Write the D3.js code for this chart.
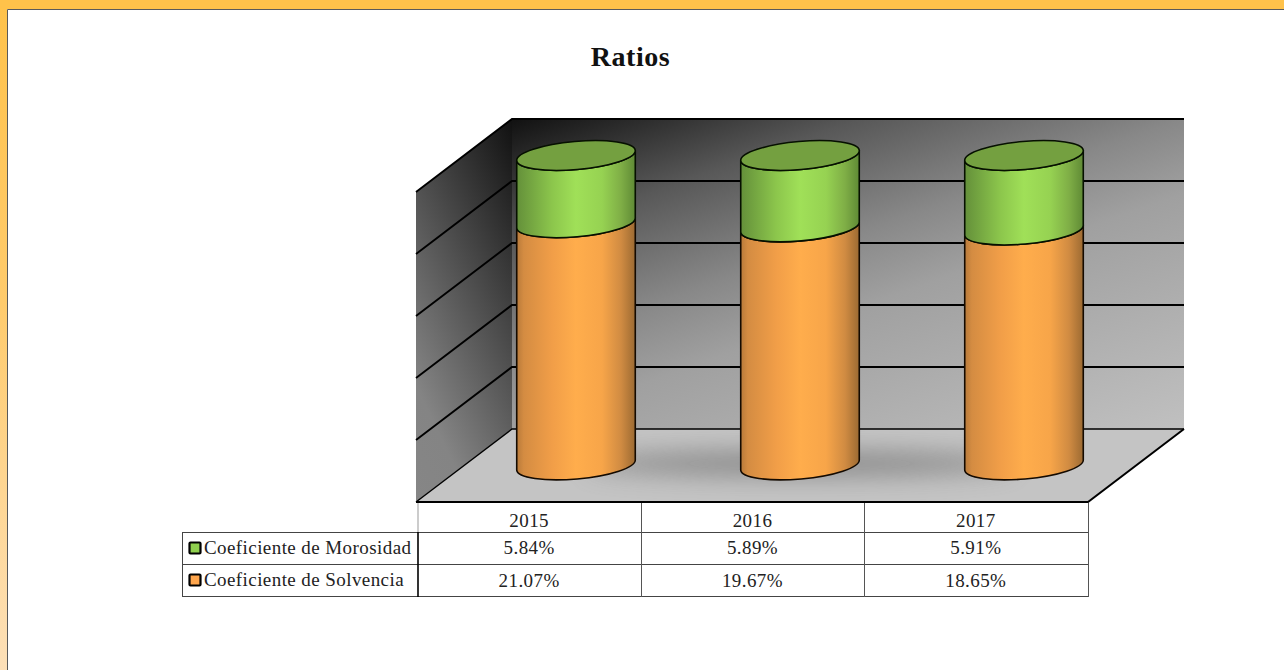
<!DOCTYPE html>
<html><head><meta charset="utf-8">
<script src="https://cdn.jsdelivr.net/npm/d3@7"></script>
<style>html,body{margin:0;padding:0;background:#fff;overflow:hidden}svg{display:block}</style>
</head><body><svg id="c" width="1284" height="670"></svg>
<script>
const title = "Ratios";
const years = ["2015","2016","2017"];
const morosidad = [5.84,5.89,5.91];
const solvencia = [21.07,19.67,18.65];
const seriesNames = ["Coeficiente de Morosidad","Coeficiente de Solvencia"];
const yTicks = [0,0.2,0.4,0.6,0.8,1];

const W=1284,H=670;
const svg=d3.select("#c");
const defs=svg.append("defs");
function grad(id,attrs,stops){
  const g=defs.append("linearGradient").attr("id",id);
  Object.entries(attrs).forEach(([k,v])=>g.attr(k,v));
  stops.forEach(([o,c])=>g.append("stop").attr("offset",o).attr("stop-color",c));
}
grad("side",{x1:0,y1:0,x2:0,y2:1},[[0,"#ffc24a"],[0.45,"#ffcb6c"],[1,"#fde0b8"]]);
grad("back",{gradientUnits:"userSpaceOnUse",x1:512,y1:119,x2:682,y2:604.5},[[0,"#111"],[0.224,"#585858"],[0.431,"#888"],[0.569,"#a0a0a0"],[1,"#c0c0c0"]]);
grad("left",{gradientUnits:"userSpaceOnUse",x1:512,y1:119,x2:284,y2:229},[[0,"#111"],[0.8,"#848484"],[1,"#868686"]]);
grad("green",{x1:0,y1:0,x2:1,y2:0},[[0,"#64903a"],[0.3,"#8cc64c"],[0.5,"#a0e058"],[0.72,"#96d252"],[0.88,"#7fae46"],[1,"#5f8a35"]]);
grad("orange",{x1:0,y1:0,x2:1,y2:0},[[0,"#b87a3a"],[0.06,"#d48c42"],[0.3,"#f19e48"],[0.5,"#ffad4c"],[0.72,"#f7a549"],[0.88,"#d08b42"],[1,"#9c6a32"]]);
const blur=defs.append("filter").attr("id","blur").attr("x","-50%").attr("y","-200%").attr("width","200%").attr("height","500%");
blur.append("feGaussianBlur").attr("stdDeviation",12);

// page frame
svg.append("rect").attr("width",W).attr("height",H).attr("fill","#fff");
svg.append("rect").attr("width",7).attr("height",H).attr("fill","url(#side)");
svg.append("rect").attr("width",W).attr("height",9).attr("fill","#ffc24a");
svg.append("path").attr("d",`M7.5,${H}V9.5H${W}`).attr("fill","none").attr("stroke","#5a5a5a").attr("stroke-width",1);

svg.append("text").text(title).attr("x",630.5).attr("y",66).attr("text-anchor","middle")
  .attr("font-family","'Liberation Serif',serif").attr("font-weight","bold").attr("font-size",28).attr("letter-spacing",0.55).attr("fill","#111");

// scales: back wall plane, with a depth offset to the front plane
const depth={dx:-96,dy:73};
const x=d3.scaleBand().domain(years).range([512,1184]);
const y=d3.scaleLinear().domain([0,1]).range([429,119]);
const x0=512,x1=1184;
const plot=svg.append("g");
plot.append("rect").attr("x",x0).attr("y",y(1)).attr("width",x1-x0).attr("height",y(0)-y(1)).attr("fill","url(#back)");
plot.append("path").attr("d",`M${x0},${y(1)}L${x0+depth.dx},${y(1)+depth.dy}V${y(0)+depth.dy}L${x0},${y(0)}Z`).attr("fill","url(#left)");
const floorD=`M${x0},${y(0)}H${x1}L${x1+depth.dx},${y(0)+depth.dy}H${x0+depth.dx}Z`;
plot.append("path").attr("d",floorD).attr("fill","#c4c4c4");
defs.append("clipPath").attr("id","floorClip").append("path").attr("d",floorD);

// soft shadow on the floor, centred under the middle cylinder
const midYear=years[1];
plot.append("g").attr("clip-path","url(#floorClip)").append("ellipse").attr("filter","url(#blur)")
  .attr("cx",x(midYear)+x.bandwidth()/2+depth.dx/2).attr("cy",y(0)+depth.dy/2-2).attr("rx",215).attr("ry",13)
  .attr("fill","#777").attr("opacity",.72);

// gridlines
plot.append("g").selectAll("path").data(yTicks).join("path")
  .attr("d",t=>`M${x0+depth.dx},${y(t)+depth.dy}L${x0},${y(t)}H${x1}`)
  .attr("fill","none").attr("stroke","#000").attr("stroke-width",t=>t===0?1.4:1.9);
plot.append("path").attr("d",`M${x0+depth.dx},${y(0)+depth.dy}H${x1+depth.dx}L${x1},${y(0)}`).attr("fill","none").attr("stroke","#000").attr("stroke-width",2);

// stacked 100% cylinders
const rx=59.5,ry=14,tilt=-5;
function arcPath(cx,ytop,ybot){
  const t=tilt*Math.PI/180, hx=rx*Math.cos(t), hy=rx*Math.sin(t);
  return `M${cx-hx},${ytop-hy}L${cx-hx},${ybot-hy}A${rx},${ry} ${tilt} 0 0 ${cx+hx},${ybot+hy}L${cx+hx},${ytop+hy}A${rx},${ry} ${tilt} 0 1 ${cx-hx},${ytop-hy}Z`;
}
const cyl=plot.append("g").selectAll("g").data(years).join("g");
cyl.each(function(yr,i){
  const g=d3.select(this);
  const total=morosidad[i]+solvencia[i];
  const cx=x(yr)+x.bandwidth()/2+depth.dx/2;
  const yb=y(0)+depth.dy/2-0.5;
  const ym=y(solvencia[i]/total)+depth.dy/2;
  const yt=y(1)+depth.dy/2;
  g.append("path").attr("d",arcPath(cx,ym,yb)).attr("fill","url(#orange)").attr("stroke","#140a00").attr("stroke-width",1.6);
  g.append("path").attr("d",arcPath(cx,yt,ym)).attr("fill","url(#green)").attr("stroke","#061000").attr("stroke-width",1.6);
  g.append("ellipse").attr("transform",`translate(${cx},${yt}) rotate(${tilt})`).attr("rx",rx).attr("ry",ry)
    .attr("fill","#74a040").attr("stroke","#061000").attr("stroke-width",1.6);
});

// data table
const tableX=d3.scaleBand().domain(years).range([417.5,1087.5]);
const rowY=[502,532,564,596];
const t=svg.append("g").attr("font-family","'Liberation Serif',serif").attr("fill","#222").attr("font-size",19).attr("letter-spacing",0.42);
const line=(x1,y1,x2,y2,c,w)=>t.append("line").attr("x1",x1).attr("y1",y1).attr("x2",x2).attr("y2",y2).attr("stroke",c).attr("stroke-width",w);
rowY.slice(1).forEach(v=>line(182,v+.5,1088,v+.5,"#444",1));
line(182.5,532,182.5,597,"#444",1);
line(418,503,418,532,"#999",1);
line(418,532,418,597,"#000",1.6);
years.forEach(d=>line(Math.round(tableX(d)+tableX.bandwidth())+.5,503,Math.round(tableX(d)+tableX.bandwidth())+.5,597,"#555",1));
years.forEach((d,i)=>{
  const cx=tableX(d)+tableX.bandwidth()/2;
  t.append("text").text(d).attr("x",cx).attr("y",527).attr("text-anchor","middle");
  t.append("text").text(morosidad[i].toFixed(2)+"%").attr("x",cx).attr("y",554).attr("text-anchor","middle");
  t.append("text").text(solvencia[i].toFixed(2)+"%").attr("x",cx).attr("y",587).attr("text-anchor","middle");
});
[["#8fd04e",548,seriesNames[0]],["#ffa64d",580,seriesNames[1]]].forEach(([c,yy,name])=>{
  t.append("rect").attr("x",189.5).attr("y",yy-5.5).attr("width",11).attr("height",11).attr("rx",1).attr("fill",c).attr("stroke","#000").attr("stroke-width",2.2);
  t.append("text").text(name).attr("x",204).attr("y",yy+6);
});
</script></body></html>
